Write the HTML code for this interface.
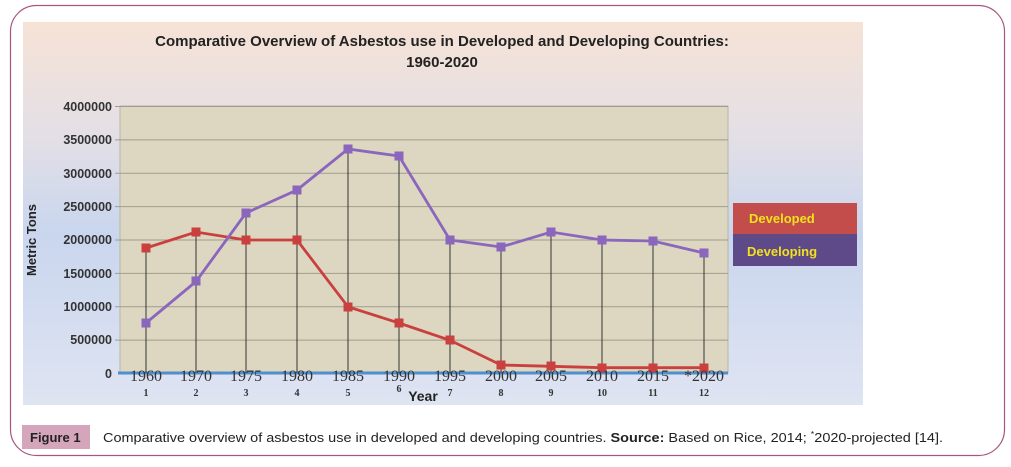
<!DOCTYPE html>
<html><head><meta charset="utf-8"><style>
html,body{margin:0;padding:0;background:#fff;width:1011px;height:467px;overflow:hidden}
</style></head><body>
<svg width="1011" height="467" xmlns="http://www.w3.org/2000/svg" font-family="Liberation Sans, sans-serif">
<defs>
<linearGradient id="bg" x1="0" y1="0" x2="0" y2="1">
<stop offset="0" stop-color="#f6e3d6"/>
<stop offset="0.3" stop-color="#e3dfe6"/>
<stop offset="0.55" stop-color="#c9d6ee"/>
<stop offset="1" stop-color="#dfe4f2"/>
</linearGradient>
</defs>
<rect x="10.5" y="5.5" width="994" height="450" rx="26" fill="#fff" stroke="#a8567f" stroke-width="1.2"/>
<rect x="23" y="22" width="840" height="383" fill="url(#bg)"/>
<text x="442" y="46" text-anchor="middle" font-size="15" font-weight="bold" fill="#222">Comparative Overview of Asbestos  use in Developed and Developing Countries:</text>
<text x="442" y="67" text-anchor="middle" font-size="15" font-weight="bold" fill="#222">1960-2020</text>
<rect x="120" y="106" width="608" height="267" fill="#ddd7c1" stroke="#b8b4a8"/>
<g stroke="#9f9c90" stroke-width="1">
<line x1="115" y1="106.5" x2="728" y2="106.5"/><line x1="115" y1="139.9" x2="728" y2="139.9"/>
<line x1="115" y1="173.3" x2="728" y2="173.3"/><line x1="115" y1="206.6" x2="728" y2="206.6"/>
<line x1="115" y1="240" x2="728" y2="240"/><line x1="115" y1="273.4" x2="728" y2="273.4"/>
<line x1="115" y1="306.8" x2="728" y2="306.8"/><line x1="115" y1="340.1" x2="728" y2="340.1"/>
</g>
<line x1="118" y1="373" x2="728" y2="373" stroke="#4f8fd0" stroke-width="3"/>
<g font-size="12.5" font-weight="bold" fill="#333" text-anchor="end">
<text x="112" y="111">4000000</text><text x="112" y="144">3500000</text><text x="112" y="178">3000000</text>
<text x="112" y="211">2500000</text><text x="112" y="244">2000000</text><text x="112" y="278">1500000</text>
<text x="112" y="311">1000000</text><text x="112" y="344">500000</text><text x="112" y="378">0</text>
</g>
<text transform="translate(36 240) rotate(-90)" text-anchor="middle" font-size="13" font-weight="bold" fill="#222">Metric Tons</text>
<g stroke="#333" stroke-width="1">
<line x1="146" y1="248" x2="146" y2="373"/><line x1="196" y1="232" x2="196" y2="373"/>
<line x1="246" y1="213" x2="246" y2="373"/><line x1="297" y1="190" x2="297" y2="373"/>
<line x1="348" y1="149" x2="348" y2="373"/><line x1="399" y1="156" x2="399" y2="373"/>
<line x1="450" y1="240" x2="450" y2="373"/><line x1="501" y1="247" x2="501" y2="373"/>
<line x1="551" y1="232" x2="551" y2="373"/><line x1="602" y1="240" x2="602" y2="373"/>
<line x1="653" y1="241" x2="653" y2="373"/><line x1="704" y1="253" x2="704" y2="373"/>
</g>
<polyline fill="none" stroke="#c9403f" stroke-width="2.8" points="146,248 196,232 246,240 297,240 348,306.8 399,323 450,340.3 501,365 551,366.3 602,367.7 653,367.7 704,367.7"/>
<polyline fill="none" stroke="#8a66bd" stroke-width="2.8" points="146,323 196,281.5 246,213 297,190 348,149 399,156 450,240 501,247 551,232 602,240 653,241 704,253"/>
<g fill="#c9403f">
<rect x="141.5" y="243.5" width="9" height="9"/><rect x="191.5" y="227.5" width="9" height="9"/><rect x="241.5" y="235.5" width="9" height="9"/>
<rect x="292.5" y="235.5" width="9" height="9"/><rect x="343.5" y="302.5" width="9" height="9"/><rect x="394.5" y="318.5" width="9" height="9"/>
<rect x="445.5" y="335.5" width="9" height="9"/><rect x="496.5" y="360.5" width="9" height="9"/><rect x="546.5" y="361.5" width="9" height="9"/>
<rect x="597.5" y="363.5" width="9" height="9"/><rect x="648.5" y="363.5" width="9" height="9"/><rect x="699.5" y="363.5" width="9" height="9"/>
</g>
<g fill="#8a66bd">
<rect x="141.5" y="318.5" width="9" height="9"/><rect x="191.5" y="276.5" width="9" height="9"/><rect x="241.5" y="208.5" width="9" height="9"/>
<rect x="292.5" y="185.5" width="9" height="9"/><rect x="343.5" y="144.5" width="9" height="9"/><rect x="394.5" y="151.5" width="9" height="9"/>
<rect x="445.5" y="235.5" width="9" height="9"/><rect x="496.5" y="242.5" width="9" height="9"/><rect x="546.5" y="227.5" width="9" height="9"/>
<rect x="597.5" y="235.5" width="9" height="9"/><rect x="648.5" y="236.5" width="9" height="9"/><rect x="699.5" y="248.5" width="9" height="9"/>
</g>
<g font-size="16" fill="#333" text-anchor="middle" font-family="Liberation Serif, serif">
<text x="146" y="381">1960</text><text x="196" y="381">1970</text><text x="246" y="381">1975</text><text x="297" y="381">1980</text>
<text x="348" y="381">1985</text><text x="399" y="381">1990</text><text x="450" y="381">1995</text><text x="501" y="381">2000</text>
<text x="551" y="381">2005</text><text x="602" y="381">2010</text><text x="653" y="381">2015</text><text x="704" y="381">*2020</text>
</g>
<g font-size="10" font-weight="bold" fill="#333" text-anchor="middle" font-family="Liberation Serif, serif">
<text x="146" y="396">1</text><text x="196" y="396">2</text><text x="246" y="396">3</text><text x="297" y="396">4</text>
<text x="348" y="396">5</text><text x="399" y="392">6</text><text x="450" y="396">7</text><text x="501" y="396">8</text>
<text x="551" y="396">9</text><text x="602" y="396">10</text><text x="653" y="396">11</text><text x="704" y="396">12</text>
</g>
<text x="423" y="401" text-anchor="middle" font-size="14" font-weight="bold" fill="#222">Year</text>
<rect x="733" y="203" width="124" height="31" fill="#c24d4a"/>
<rect x="733" y="234" width="124" height="32" fill="#5e4a88"/>
<text x="749" y="223" font-size="13" font-weight="bold" fill="#f2e21d">Developed</text>
<text x="747" y="256" font-size="13" font-weight="bold" fill="#f2e21d">Developing</text>
<rect x="22" y="425" width="68" height="24" fill="#d5a6bb"/>
<text x="30" y="442" font-size="13" font-weight="bold" fill="#222">Figure 1</text>
<text x="103" y="442" font-size="13" fill="#222" textLength="840" lengthAdjust="spacingAndGlyphs">Comparative overview of asbestos use in developed and developing countries. <tspan font-weight="bold">Source:</tspan> Based on Rice, 2014; <tspan font-size="8" dy="-5">*</tspan><tspan dy="5">2020-projected [14].</tspan></text>
</svg>
</body></html>
